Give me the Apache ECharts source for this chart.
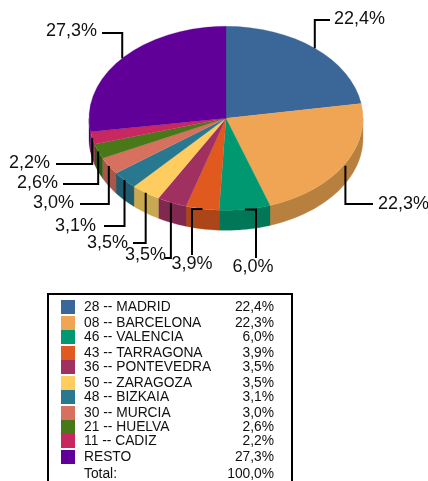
<!DOCTYPE html>
<html><head><meta charset="utf-8">
<style>html,body{margin:0;padding:0;background:#fff}#c{width:428px;height:481px}</style>
<script src="https://cdn.jsdelivr.net/npm/echarts@6/dist/echarts.min.js"></script>
</head><body><div id="c"></div>
<script>
const names = ['28 -- MADRID','08 -- BARCELONA','46 -- VALENCIA','43 -- TARRAGONA','36 -- PONTEVEDRA','50 -- ZARAGOZA','48 -- BIZKAIA','30 -- MURCIA','21 -- HUELVA','11 -- CADIZ','RESTO'];
const values = [22.4,22.3,6.0,3.9,3.5,3.5,3.1,3.0,2.6,2.2,27.3];
const totalLabel = 'Total:';
const totalValue = 100.0;
const topColors = ['#3B6698','#F0A554','#009870','#E05A1F','#A03060','#FFCC60','#287890','#D87060','#487818','#C82860','#600098'];
const sideColors = ['#2C4C72','#B8803F','#007858','#AC4618','#802850','#C8A850','#205C70','#A85848','#365A12','#962048','#480072'];
// leader layout: [mode, bend, endX/endY, textX, textY, align, anchor x offset]
const leaders = [
  ['v',20,330,334,19,'left',0],
  ['v',204,373,378,204,'left',2],
  ['h',256,258,253,267,'center',0],
  ['h',192,255,192,264,'center',0],
  ['v',258,165,166,255,'right',-1],
  ['v',243,133,128,243,'right',0],
  ['v',226,104,96,226,'right',0],
  ['v',204,80,74,203,'right',0],
  ['v',184,63,58,183,'right',0],
  ['v',164,56,50,163,'right',0],
  ['v',33,102,97,31,'right',0]
];
const legendRowY = [307,323,337,353,367,383,397,413,427,441,457];
const totalRowY = 474;

const CX=226, CY=118.3, RX=137, RY=92, DEPTH=20;
const fmt = v => v.toFixed(1).replace('.',',')+'%';
const sum = values.reduce((a,b)=>a+b,0);
let acc=0;
const spans = values.map(v=>{const s=acc; acc+=v; return [s/sum*Math.PI*2,acc/sum*Math.PI*2];});
const pt=(a,dy=0)=>[CX+RX*Math.sin(a),CY-RY*Math.cos(a)+dy];

function renderSide(params,api){
  const i=params.dataIndex, [a0,a1]=spans[i];
  const s=Math.max(a0,Math.PI/2), e=Math.min(a1,Math.PI*1.5);
  if(e<=s) return {type:'group',children:[]};
  const n=Math.max(2,Math.ceil((e-s)/0.03)), up=[], dn=[];
  for(let k=0;k<=n;k++){const a=s+(e-s)*k/n; up.push(pt(a)); dn.unshift(pt(a,DEPTH));}
  return {type:'polygon',shape:{points:up.concat(dn)},style:{fill:sideColors[i],stroke:sideColors[i],lineWidth:0.3}};
}
function renderTop(params,api){
  const i=params.dataIndex, [a0,a1]=spans[i];
  return {type:'group',x:CX,y:CY,scaleY:RY/RX,children:[{
    type:'sector',
    shape:{cx:0,cy:0,r0:0,r:RX,startAngle:a0-Math.PI/2,endAngle:a1-Math.PI/2,clockwise:true},
    style:{fill:topColors[i],stroke:topColors[i],lineWidth:0.3}
  }]};
}
function renderLeader(params,api){
  const i=params.dataIndex, [a0,a1]=spans[i], L=leaders[i];
  const m=pt((a0+a1)/2), a=[m[0]+L[6],m[1]];
  const pts = L[0]==='v' ? [a,[a[0],L[1]],[L[2],L[1]]] : [a,[L[1],a[1]],[L[1],L[2]]];
  return {type:'group',children:[
    {type:'polyline',shape:{points:pts},style:{fill:'none',stroke:'#000',lineWidth:2}},
    {type:'text',x:L[3],y:L[4],style:{text:fmt(api.value(0)),fill:'#111',font:'18px "Liberation Sans"',textAlign:L[5],textVerticalAlign:'middle'}}
  ]};
}
const legendFont='13.8px "Liberation Sans"';
const graphic=[{type:'rect',shape:{x:48,y:294,width:244,height:200},style:{fill:'#fff',stroke:'#000',lineWidth:2},z:1}];
names.forEach((nm,i)=>{
  const y=legendRowY[i];
  graphic.push({type:'rect',shape:{x:61,y:y-7,width:14,height:14},style:{fill:topColors[i]},z:2});
  graphic.push({type:'text',x:84,y,style:{text:nm,font:legendFont,fill:'#111',textVerticalAlign:'middle'},z:2});
  graphic.push({type:'text',x:274,y,style:{text:fmt(values[i]),font:legendFont,fill:'#111',textAlign:'right',textVerticalAlign:'middle'},z:2});
});
graphic.push({type:'text',x:84,y:totalRowY,style:{text:totalLabel,font:legendFont,fill:'#111',textVerticalAlign:'middle'},z:2});
graphic.push({type:'text',x:274,y:totalRowY,style:{text:fmt(totalValue),font:legendFont,fill:'#111',textAlign:'right',textVerticalAlign:'middle'},z:2});

const chart=echarts.init(document.getElementById('c'),null,{renderer:'canvas',width:428,height:481});
const data=values.map((v,i)=>({name:names[i],value:[v]}));
chart.setOption({
  animation:false,backgroundColor:'#fff',tooltip:{show:false},
  graphic:{elements:graphic},
  series:[
    {type:'custom',coordinateSystem:'none',renderItem:renderSide,data,z:2,silent:true},
    {type:'custom',coordinateSystem:'none',renderItem:renderTop,data,z:3,silent:true},
    {type:'custom',coordinateSystem:'none',renderItem:renderLeader,data,z:4,silent:true}
  ]
});
</script></body></html>
